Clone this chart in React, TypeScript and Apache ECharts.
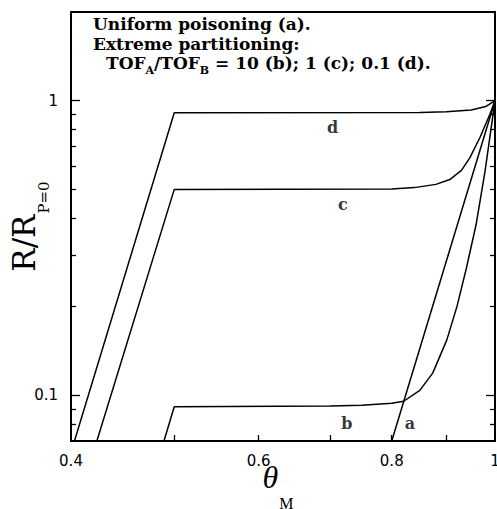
import React, { useEffect, useRef } from "react";
import * as echarts from "echarts";

// ---- data (theta_M, R/R_P=0) ----
const curveA: [number, number][] = [
  [0.8, 0.07],
  [1.0, 1.0],
];
const curveB: [number, number][] = [
  [0.489, 0.07], [0.5, 0.0915], [0.7, 0.092], [0.75, 0.0925], [0.8, 0.094],
  [0.821, 0.0955], [0.85, 0.104], [0.874, 0.119], [0.901, 0.154], [0.921, 0.2],
  [0.94, 0.27], [0.96, 0.38], [0.979, 0.58], [1.0, 1.0],
];
const curveC: [number, number][] = [
  [0.423, 0.07], [0.5, 0.5], [0.8, 0.502], [0.84, 0.507], [0.88, 0.52],
  [0.907, 0.54], [0.93, 0.58], [0.947, 0.64], [0.968, 0.75], [0.989, 0.9], [1.0, 1.0],
];
const curveD: [number, number][] = [
  [0.403, 0.07], [0.5, 0.91], [0.85, 0.912], [0.9, 0.918], [0.95, 0.93],
  [0.98, 0.955], [1.0, 1.0],
];
const curveNames = ["a", "b", "c", "d"];
const curveLabelPos: [number, number][] = [
  [0.832, 0.0804],
  [0.726, 0.0804],
  [0.72, 0.444],
  [0.704, 0.81],
];

const xLabelValues = [0.4, 0.6, 0.8, 1];
const xTickValues = [0.5, 0.6, 0.7, 0.8, 0.9];
const yLabelValues = [0.1, 1];
const yMajorTicks = [0.1, 1];
const yMinorTicks = [0.08, 0.09, 0.2, 0.3, 0.4, 0.5, 0.6, 0.7, 0.8, 0.9];

const X_MIN = 0.4, X_MAX = 1;
const Y_MIN = 0.07, Y_MAX = 2;

const annotationLines = [
  "Uniform poisoning (a).",
  "Extreme partitioning:",
];

const fmt = (v: number) => String(parseFloat(Number(v).toPrecision(3)));

export default function App() {
  const ref = useRef<HTMLDivElement>(null);
  useEffect(() => {
    if (!ref.current) return;
    const chart = echarts.init(ref.current, null, { renderer: "svg" });
    const tickFont = { fontFamily: "DejaVu Sans", fontSize: 15, color: "#000" };
    const yAxisBase = (position: "left" | "right", ticks: number[], len: number, labels: boolean) => ({
      type: "log",
      position,
      min: Y_MIN,
      max: Y_MAX,
      logBase: 10,
      axisLine: { show: false },
      splitLine: { show: false },
      axisTick: { show: true, inside: true, length: len, customValues: ticks, lineStyle: { color: "#000", width: 1.3 } },
      axisLabel: labels
        ? { show: true, customValues: yLabelValues, formatter: (v: number) => fmt(v), margin: 13, ...tickFont }
        : { show: false },
    });
    const lineStyle = { color: "#000", width: 1.5 };
    const mk = (data: [number, number][]) => ({
      type: "line",
      data,
      showSymbol: false,
      symbol: "none",
      lineStyle,
      clip: true,
      silent: true,
    });
    chart.setOption({
      animation: false,
      backgroundColor: "#fff",
      grid: {
        left: 71, right: 2, top: 12, bottom: 68,
        show: true, borderColor: "#000", borderWidth: 2, backgroundColor: "transparent",
        containLabel: false,
        outerBoundsMode: "none",
      },
      xAxis: [
        {
          type: "log",
          logBase: 10,
          min: X_MIN,
          max: X_MAX,
          position: "bottom",
          axisLine: { show: false },
          splitLine: { show: false },
          axisTick: { show: true, inside: true, length: 6, customValues: xTickValues, lineStyle: { color: "#000", width: 1.3 } },
          axisLabel: { show: true, customValues: xLabelValues, formatter: (v: number) => fmt(v), margin: 12, ...tickFont },
          name: "{t|θ}{s|M}",
          nameLocation: "middle",
          nameGap: 2,
          nameMoveOverlap: false,
          nameTextStyle: {
            rich: {
              t: { fontFamily: "Liberation Serif", fontStyle: "italic", fontSize: 32, color: "#000" },
              s: { fontFamily: "Liberation Serif", fontSize: 16, color: "#000", padding: [52, 10, 0, 1] },
            },
          },
        },
      ],
      yAxis: [
        {
          ...yAxisBase("left", yMajorTicks, 9, true),
          name: "{t|R/R}{s|P=0}",
          nameLocation: "middle",
          nameRotate: 90,
          nameGap: 20,
          nameMoveOverlap: false,
          nameTextStyle: {
            rich: {
              t: { fontFamily: "DejaVu Serif", fontSize: 31, color: "#000" },
              s: { fontFamily: "DejaVu Serif", fontSize: 15, color: "#000", padding: [39, 0, 0, 1] },
            },
          },
        },
        yAxisBase("left", yMinorTicks, 5, false),
        yAxisBase("right", yMajorTicks, 9, false),
        yAxisBase("right", yMinorTicks, 5, false),
      ],
      series: [
        mk(curveA),
        mk(curveB),
        mk(curveC),
        mk(curveD),
        {
          type: "scatter",
          symbolSize: 1,
          itemStyle: { color: "rgba(0,0,0,0)" },
          silent: true,
          data: curveLabelPos.map((p, i) => ({ value: p, name: curveNames[i] })),
          label: {
            show: true,
            position: "inside",
            formatter: (p: any) => p.name,
            fontFamily: "DejaVu Serif",
            fontWeight: "bold",
            fontSize: 16,
            color: "#000",
          },
        },
      ],
      graphic: [
        {
          type: "text",
          left: 93,
          top: 15,
          style: { text: annotationLines[0], font: 'bold 17px "DejaVu Serif"', fill: "#000" },
        },
        {
          type: "text",
          left: 93,
          top: 35,
          style: { text: annotationLines[1], font: 'bold 17px "DejaVu Serif"', fill: "#000" },
        },
        {
          type: "text",
          left: 106,
          top: 54,
          style: {
            text: "{m|TOF}{s|A}{m|/TOF}{s|B}{m| = 10 (b); 1 (c); 0.1 (d).}",
            rich: {
              m: { font: 'bold 17px "DejaVu Serif"', fill: "#000" },
              s: { font: 'bold 11px "DejaVu Serif"', fill: "#000", padding: [16, 0, 0, 0] },
            },
          },
        },
      ],
    });
    return () => chart.dispose();
  }, []);
  return <div ref={ref} style={{ position: "absolute", left: 0, top: 0, width: 497, height: 509 }} />;
}
